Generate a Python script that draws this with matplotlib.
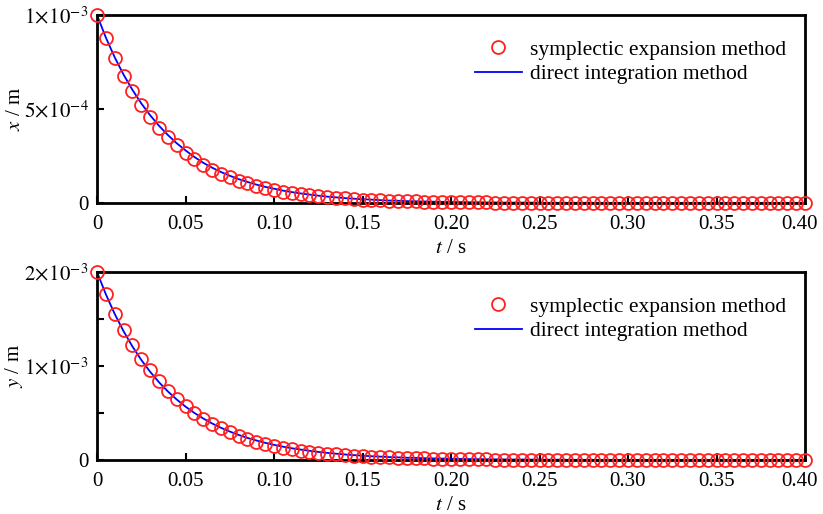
import matplotlib
matplotlib.use("Agg")
import matplotlib.pyplot as plt
from matplotlib.transforms import ScaledTranslation

plt.rcParams['font.family'] = ['Liberation Serif', 'DejaVu Serif']
plt.rcParams['mathtext.fontset'] = 'stix'

# time samples (s)
t = [i * 0.005 for i in range(81)]

# x displacement (1e-3 m), symplectic expansion method (markers)
x_sym = [1.000, 0.877, 0.769, 0.676, 0.595, 0.521, 0.458, 0.401, 0.352, 0.308,
         0.268, 0.232, 0.202, 0.176, 0.155, 0.136, 0.118, 0.104, 0.090, 0.079,
         0.070, 0.060, 0.053, 0.046, 0.041, 0.036, 0.031, 0.027, 0.024, 0.021,
         0.018, 0.016, 0.014, 0.012, 0.011, 0.009, 0.008, 0.007, 0.006, 0.005,
         0.005, 0.004, 0.004, 0.003, 0.003, 0.002, 0.002, 0.002, 0.002, 0.001,
         0.001, 0.001, 0.001, 0.001, 0.001, 0.001, 0.000, 0.000, 0.000, 0.000,
         0.000, 0.000, 0.000, 0.000, 0.000, 0.000, 0.000, 0.000, 0.000, 0.000,
         0.000, 0.000, 0.000, 0.000, 0.000, 0.000, 0.000, 0.000, 0.000, 0.000,
         0.000]
# x displacement (1e-3 m), direct integration method (line)
x_dir = [1.000, 0.880, 0.775, 0.683, 0.602, 0.530, 0.467, 0.411, 0.362, 0.318,
         0.280, 0.245, 0.214, 0.188, 0.165, 0.145, 0.127, 0.112, 0.098, 0.086,
         0.076, 0.066, 0.058, 0.051, 0.045, 0.039, 0.034, 0.030, 0.026, 0.023,
         0.020, 0.018, 0.015, 0.013, 0.012, 0.010, 0.009, 0.008, 0.007, 0.006,
         0.005, 0.005, 0.004, 0.004, 0.003, 0.003, 0.002, 0.002, 0.002, 0.002,
         0.001, 0.001, 0.001, 0.001, 0.001, 0.001, 0.001, 0.000, 0.000, 0.000,
         0.000, 0.000, 0.000, 0.000, 0.000, 0.000, 0.000, 0.000, 0.000, 0.000,
         0.000, 0.000, 0.000, 0.000, 0.000, 0.000, 0.000, 0.000, 0.000, 0.000,
         0.000]

# y displacement (1e-3 m)
y_sym = [2.000, 1.768, 1.554, 1.379, 1.221, 1.075, 0.954, 0.836, 0.739, 0.650,
         0.571, 0.500, 0.436, 0.382, 0.336, 0.293, 0.254, 0.221, 0.193, 0.171,
         0.150, 0.132, 0.114, 0.100, 0.088, 0.077, 0.068, 0.060, 0.052, 0.046,
         0.040, 0.035, 0.031, 0.027, 0.024, 0.021, 0.018, 0.016, 0.014, 0.012,
         0.011, 0.009, 0.008, 0.007, 0.006, 0.005, 0.005, 0.004, 0.004, 0.003,
         0.003, 0.002, 0.002, 0.002, 0.002, 0.001, 0.001, 0.001, 0.001, 0.001,
         0.001, 0.001, 0.000, 0.000, 0.000, 0.000, 0.000, 0.000, 0.000, 0.000,
         0.000, 0.000, 0.000, 0.000, 0.000, 0.000, 0.000, 0.000, 0.000, 0.000,
         0.000]
y_dir = [2.000, 1.763, 1.554, 1.370, 1.208, 1.065, 0.939, 0.828, 0.730, 0.644,
         0.568, 0.501, 0.442, 0.389, 0.343, 0.303, 0.267, 0.235, 0.208, 0.183,
         0.161, 0.142, 0.125, 0.111, 0.098, 0.086, 0.076, 0.067, 0.059, 0.052,
         0.046, 0.040, 0.036, 0.031, 0.028, 0.024, 0.022, 0.019, 0.017, 0.015,
         0.013, 0.011, 0.010, 0.009, 0.008, 0.007, 0.006, 0.005, 0.005, 0.004,
         0.004, 0.003, 0.003, 0.002, 0.002, 0.002, 0.002, 0.001, 0.001, 0.001,
         0.001, 0.001, 0.001, 0.001, 0.000, 0.000, 0.000, 0.000, 0.000, 0.000,
         0.000, 0.000, 0.000, 0.000, 0.000, 0.000, 0.000, 0.000, 0.000, 0.000,
         0.000]

xticks = [0, 0.05, 0.10, 0.15, 0.20, 0.25, 0.30, 0.35, 0.40]
xticklabels = ['0', '0.05', '0.10', '0.15', '0.20', '0.25', '0.30', '0.35', '0.40']

top_yticks = [0, 0.5, 1.0]
top_yticklabels = ['0', r'$5\!\times\!10^{-4}$', r'$1\!\times\!10^{-3}$']
bot_yticks = [0, 0.5, 1.0, 1.5, 2.0]
bot_yticklabels = ['0', '', r'$1\!\times\!10^{-3}$', '', r'$2\!\times\!10^{-3}$']

FS = 15
LFS = 15.5

fig = plt.figure(figsize=(8.23, 5.14), dpi=100)
L, R = 97, 805
ax1 = fig.add_axes([L/823, 1-203/514, (R-L)/823, 188/514])
ax2 = fig.add_axes([L/823, 1-460/514, (R-L)/823, 188/514])

panels = [
    (ax1, x_sym, x_dir, 1.0, top_yticks, top_yticklabels, r'$x$ / m'),
    (ax2, y_sym, y_dir, 2.0, bot_yticks, bot_yticklabels, r'$y$ / m'),
]
for ax, s, d, ymax, yt, ytl, ylab in panels:
    ax.plot(t, d, color='#0000ff', lw=1.3, zorder=2, label='direct integration method')
    ax.plot(t, s, linestyle='none', marker='o', ms=9.3, mfc='none', mec='#ff2020',
            mew=1.3, clip_on=False, zorder=3, label='symplectic expansion method')
    ax.set_xlim(0, 0.40)
    ax.set_ylim(0, ymax)
    ax.set_xticks(xticks)
    ax.set_xticklabels(xticklabels, fontsize=FS)
    ax.set_yticks(yt)
    ax.set_yticklabels(ytl, fontsize=FS)
    ax.tick_params(direction='in', length=5, width=1.5, top=False, right=False)
    ax.tick_params(axis='x', pad=9)
    ax.tick_params(axis='y', pad=6)
    last = ax.get_xticklabels()[-1]
    last.set_transform(last.get_transform() + ScaledTranslation(-4/72, 0, fig.dpi_scale_trans))
    for sp in ax.spines.values():
        sp.set_linewidth(2.0)
    ax.set_xlabel(r'$t$ / s', fontsize=FS, labelpad=3)
    ax.set_ylabel(ylab, fontsize=FS)
    ax.yaxis.set_label_coords((25 - L) / (R - L), 0.5)
    h, l = ax.get_legend_handles_labels()
    ax.legend([h[1], h[0]], [l[1], l[0]], loc='upper right', frameon=False,
              fontsize=LFS, handlelength=2.2, handletextpad=0.35, labelspacing=0.2,
              borderaxespad=0.0, bbox_to_anchor=(0.985, 0.915))

fig.savefig('out.png', dpi=100)
